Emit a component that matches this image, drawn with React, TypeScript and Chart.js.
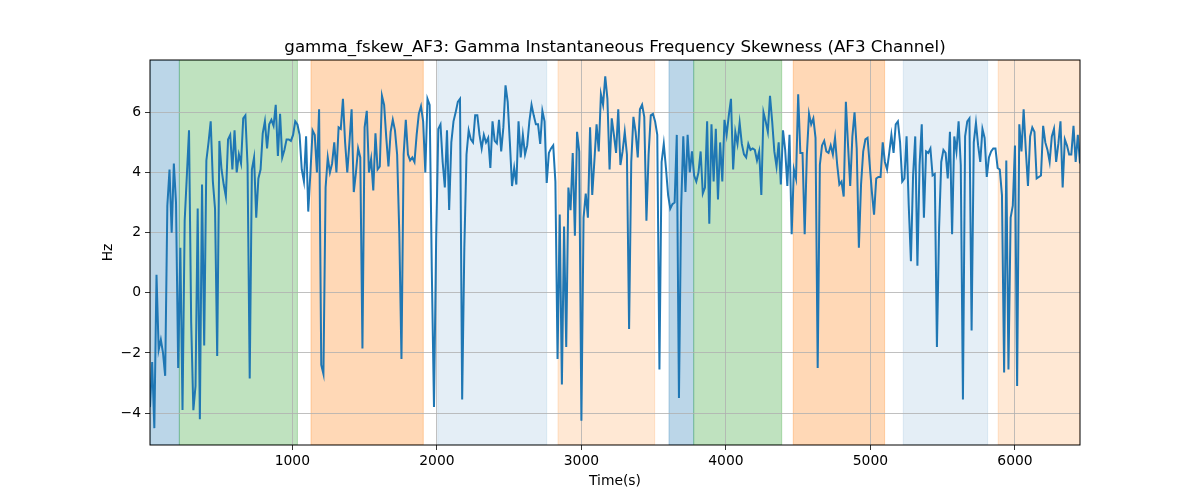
import React, { useEffect, useRef } from 'react';
import { Chart, registerables } from 'chart.js';

Chart.register(...registerables);

// samples are evenly spaced in time
const SAMPLE_START = 15;
const SAMPLE_STEP = 15;

const fskewValues = [
  -3.8, -2.3, -4.5, 0.6, -1.9, -1.56, -2.0, -2.76, 2.9, 4.1,
  2.0, 4.3, 3.0, -2.5, 1.5, -3.9, 2.4, 3.9, 5.4, -1.0,
  -3.9, -3.1, 2.8, -4.2, 3.6, -1.75, 4.4, 5.0, 5.7, 3.7,
  2.8, -2.1, 5.05, 4.1, 3.6, 3.2, 5.1, 5.25, 4.1, 5.4,
  4.0, 4.6, 4.3, 5.8, 5.9, 4.25, -2.85, 4.1, 4.5, 2.5,
  3.8, 4.1, 5.3, 5.7, 4.8, 5.6, 5.75, 5.55, 6.25, 4.55,
  5.95, 4.5, 4.75, 5.1, 5.1, 5.05, 5.25, 5.7, 5.6, 5.25,
  4.1, 3.7, 5.2, 2.7, 4.0, 5.4, 5.25, 4.0, 6.1, -2.4,
  -2.7, 3.5, 4.5, 4.0, 4.3, 5.0, 4.0, 5.5, 5.45, 6.45,
  5.0, 4.0, 5.0, 6.1, 3.35, 4.0, 4.8, 4.5, -1.85, 5.5,
  6.05, 4.0, 4.45, 3.4, 5.3, 4.1, 4.2, 6.55, 6.25, 5.15,
  4.2, 5.35, 5.75, 5.4, 4.6, 2.0, -2.2, 4.6, 5.75, 4.6,
  4.4, 4.5, 4.35, 5.25, 5.95, 6.2, 5.7, 4.0, 6.45, 6.25,
  0.7, -3.8, 1.8, 5.45, 5.6, 4.35, 3.5, 5.4, 2.75, 5.0,
  5.7, 6.0, 6.35, 6.45, -3.55, 1.5, 4.6, 5.4, 5.1, 5.0,
  5.9, 5.9, 5.25, 4.8, 5.25, 5.0, 5.15, 4.15, 5.7, 5.05,
  4.97, 5.75, 4.7, 5.5, 6.9, 6.35, 5.0, 3.55, 4.15, 3.6,
  5.7, 4.5, 5.25, 4.6, 4.9, 5.7, 6.25, 5.9, 5.6, 5.6,
  4.95, 6.05, 5.7, 3.65, 4.65, 4.8, 4.9, 3.7, -2.2, 2.6,
  -3.05, 2.2, -1.8, 3.5, 2.75, 4.65, 1.9, 5.35, 4.7, -4.25,
  2.5, 3.3, 2.5, 5.5, 3.25, 4.4, 5.6, 4.7, 6.6, 6.25,
  7.2, 6.45, 4.1, 5.8, 5.25, 4.65, 6.1, 4.25, 4.7, 5.35,
  4.6, -1.2, 4.35, 5.85, 5.35, 4.5, 6.1, 6.25, 5.85, 2.4,
  4.6, 5.9, 5.95, 5.7, 5.25, -2.55, 4.35, 4.95, 4.15, 3.25,
  2.8, 2.95, 3.0, 5.25, -3.5, 2.8, 5.2, 3.35, 5.25, 4.0,
  4.7, 3.9, 3.7, 4.0, 4.7, 3.3, 3.5, 5.7, 2.3, 5.6,
  3.7, 5.45, 3.1, 5.0, 3.7, 5.75, 5.25, 5.9, 6.45, 4.1,
  5.35, 4.95, 5.65, 4.95, 4.6, 4.5, 4.95, 4.75, 4.8, 4.75,
  4.4, 4.7, 3.25, 6.0, 5.7, 5.35, 6.55, 5.7, 4.7, 4.2,
  5.0, 3.6, 5.4, 4.75, 3.55, 5.25, 1.95, 4.1, 3.8, 6.6,
  4.65, 4.65, 1.95, 4.6, 5.95, 5.6, 5.8, 5.15, -2.5, 4.25,
  4.9, 5.05, 4.7, 4.65, 4.9, 4.6, 5.15, 4.25, 3.6, 3.7,
  3.2, 6.35, 4.9, 3.55, 5.2, 6.0, 4.8, 1.5, 3.6, 4.7,
  5.1, 5.15, 4.25, 3.35, 2.6, 3.8, 3.85, 3.85, 5.0, 4.35,
  4.1, 4.65, 5.25, 4.65, 5.6, 5.7, 5.0, 3.7, 3.8, 5.2,
  2.9, 1.05, 3.9, 5.2, 0.9, 4.25, 5.6, 2.5, 4.7, 4.65,
  4.8, 3.9, 3.95, -1.8, 2.15, 4.35, 4.75, 4.65, 3.8, 5.35,
  1.95, 5.2, 4.7, 5.7, 4.25, -3.55, 5.2, 5.7, 5.8, -1.25,
  5.0, 5.65, 4.9, 4.35, 5.45, 5.15, 3.85, 4.5, 4.7, 4.8,
  4.8, 4.15, 4.1, 3.25, -2.65, 4.4, -2.55, 2.5, 2.9, 4.9,
  -3.1, 5.6, 4.7, 6.1, 4.75, 3.55, 5.2, 5.5, 5.35, 3.8,
  3.85, 3.9, 5.55, 5.0, 4.75, 4.35, 5.2, 5.45, 4.35, 4.95,
  5.7, 3.5, 5.1, 4.9, 4.6, 4.6, 5.55, 4.35, 5.25, 4.3,
];

const xTickValues = [1000, 2000, 3000, 4000, 5000, 6000];
const yTickValues = [-4, -2, 0, 2, 4, 6];

// shaded segments
const spanStarts = [15, 218, 1129, 2006, 2838, 3606, 3777, 4466, 5227, 5884];
const spanEnds = [218, 1035, 1906, 2760, 3507, 3777, 4386, 5098, 5811, 6450];
const spanColors = [
  'rgba(31,119,180,0.3)',
  'rgba(44,160,44,0.3)',
  'rgba(255,127,14,0.3)',
  'rgba(31,119,180,0.12)',
  'rgba(255,127,14,0.18)',
  'rgba(31,119,180,0.3)',
  'rgba(44,160,44,0.3)',
  'rgba(255,127,14,0.3)',
  'rgba(31,119,180,0.12)',
  'rgba(255,127,14,0.18)',
];

const TITLE = 'gamma_fskew_AF3: Gamma Instantaneous Frequency Skewness (AF3 Channel)';
const FONT = "'DejaVu Sans', sans-serif";

const spansPlugin = {
  id: 'spans',
  beforeDraw(chart: any) {
    const { ctx, chartArea } = chart;
    const x = chart.scales.x;
    ctx.save();
    ctx.beginPath();
    ctx.rect(chartArea.left, chartArea.top, chartArea.right - chartArea.left, chartArea.bottom - chartArea.top);
    ctx.clip();
    spanStarts.forEach((s, i) => {
      const x0 = x.getPixelForValue(s);
      const x1 = x.getPixelForValue(spanEnds[i]);
      ctx.fillStyle = spanColors[i];
      ctx.fillRect(x0, chartArea.top, x1 - x0, chartArea.bottom - chartArea.top);
      ctx.strokeStyle = spanColors[i];
      ctx.lineWidth = 1;
      ctx.strokeRect(x0, chartArea.top, x1 - x0, chartArea.bottom - chartArea.top);
    });
    ctx.restore();
  },
};

const framePlugin = {
  id: 'frame',
  afterDraw(chart: any) {
    const { ctx, chartArea } = chart;
    const { left, right, top, bottom } = chartArea;
    ctx.save();
    ctx.strokeStyle = '#000';
    ctx.lineWidth = 1;
    ctx.strokeRect(left, top, right - left, bottom - top);

    ctx.fillStyle = '#000';
    ctx.textAlign = 'center';
    ctx.font = `16.67px ${FONT}`;
    ctx.textBaseline = 'alphabetic';
    ctx.fillText(TITLE, (left + right) / 2, top - 8);

    ctx.font = `13.89px ${FONT}`;
    ctx.textBaseline = 'middle';
    ctx.fillText('Time(s)', (left + right) / 2, 481);

    ctx.translate(108, (top + bottom) / 2);
    ctx.rotate(-Math.PI / 2);
    ctx.fillText('Hz', 0, 0);
    ctx.restore();
  },
};

const App: React.FC = () => {
  const canvasRef = useRef<HTMLCanvasElement>(null);

  useEffect(() => {
    document.body.style.margin = '0';
    if (!canvasRef.current) return;
    const ctx = canvasRef.current.getContext('2d');
    if (!ctx) return;

    const points = fskewValues.map((v, i) => ({ x: SAMPLE_START + i * SAMPLE_STEP, y: v }));
    const tickFont = { family: FONT, size: 13.89 };

    const chart = new Chart(ctx, {
      type: 'line',
      data: {
        datasets: [
          {
            data: points,
            borderColor: '#1f77b4',
            borderWidth: 2,
            pointRadius: 0,
            tension: 0,
            fill: false,
          },
        ],
      },
      options: {
        animation: false,
        responsive: false,
        devicePixelRatio: 1,
        layout: { padding: { top: 60, right: 120, left: 0, bottom: 0 } },
        plugins: {
          legend: { display: false },
          title: { display: false },
          tooltip: { enabled: false },
        },
        scales: {
          x: {
            type: 'linear',
            min: SAMPLE_START,
            max: SAMPLE_START + (fskewValues.length - 1) * SAMPLE_STEP,
            afterBuildTicks: (scale: any) => {
              scale.ticks = xTickValues.map((v) => ({ value: v }));
            },
            afterFit: (scale: any) => {
              scale.height = 55;
            },
            grid: { color: '#b0b0b0', lineWidth: 0.8, tickColor: '#000', tickLength: 5 },
            border: { display: false },
            ticks: {
              font: tickFont,
              color: '#000',
              padding: 3,
              maxRotation: 0,
              autoSkip: false,
              callback: (v: any) => String(v),
            },
          },
          y: {
            type: 'linear',
            min: -5.06,
            max: 7.74,
            afterBuildTicks: (scale: any) => {
              scale.ticks = yTickValues.map((v) => ({ value: v }));
            },
            afterFit: (scale: any) => {
              scale.width = 150;
            },
            grid: { color: '#b0b0b0', lineWidth: 0.8, tickColor: '#000', tickLength: 5 },
            border: { display: false },
            ticks: {
              font: tickFont,
              color: '#000',
              padding: 4,
              autoSkip: false,
              callback: (v: any) => (v < 0 ? '\u2212' + Math.abs(v) : String(v)),
            },
          },
        },
      },
      plugins: [spansPlugin, framePlugin],
    });

    return () => {
      chart.destroy();
    };
  }, []);

  return (
    <div style={{ width: 1200, height: 500, background: '#fff' }}>
      <canvas ref={canvasRef} width={1200} height={500} />
    </div>
  );
};

export default App;
